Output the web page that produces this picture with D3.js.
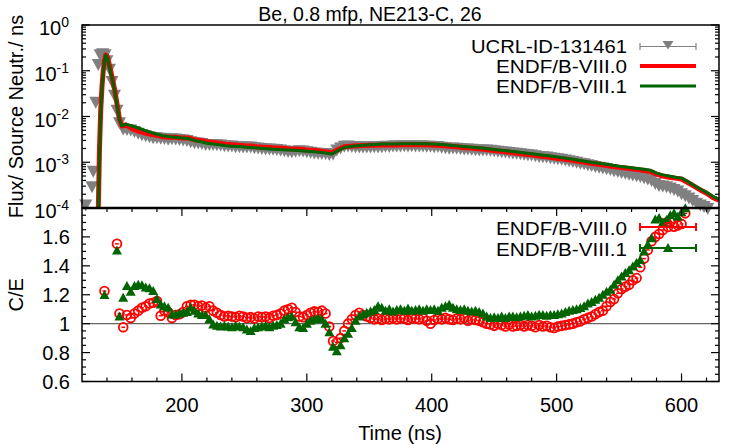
<!DOCTYPE html>
<html lang="en">
<head>
<meta charset="UTF-8">
<title>Be, 0.8 mfp, NE213-C, 26</title>
<style>
    body { margin: 0; background: #fff; }
    svg text { font-family: "Liberation Sans", Arial, Helvetica, sans-serif; fill: #000; }
</style>
</head>
<body>
<div id="chart"></div>
<script src="https://d3js.org/d3.v7.min.js"></script>
<script>
// ---- data ----
const timeExp = [123, 128, 129, 131, 133, 134.5, 136.5, 138.5, 140, 142, 144, 146, 148, 150,
    153, 156, 159, 162, 165, 168, 171, 174, 177, 180,
    183, 186, 189, 192, 195, 198, 201, 204, 207, 210,
    213, 216, 219, 222, 225, 228, 231, 234, 237, 240,
    243, 246, 249, 252, 255, 258, 261, 264, 267, 270,
    273, 276, 279, 282, 285, 288, 291, 294, 297, 300,
    303, 306, 309, 312, 315, 318, 321, 324, 327, 330,
    333, 336, 339, 342, 345, 348, 351, 354, 357, 360,
    363, 366, 369, 372, 375, 378, 381, 384, 387, 390,
    393, 396, 399, 402, 405, 408, 411, 414, 417, 420,
    423, 426, 429, 432, 435, 438, 441, 444, 447, 450,
    453, 456, 459, 462, 465, 468, 471, 474, 477, 480,
    483, 486, 489, 492, 495, 498, 501, 504, 507, 510,
    513, 516, 519, 522, 525, 528, 531, 534, 537, 540,
    543, 546, 549, 552, 555, 558, 561, 564, 567, 570,
    573, 576, 579, 582, 585, 588, 591, 594, 597, 600,
    603, 606, 609, 612, 615, 618, 621];
const fluxExp = [1.2e-4, 3e-4, 6.5e-4, 0.021, 0.14, 0.23, 0.24, 0.23, 0.17, 0.11, 0.06, 0.03, 0.014, 0.0075,
    0.0055, 0.0053, 0.0052, 0.0048, 0.0044, 0.0041, 0.0039, 0.0037, 0.0035, 0.0035,
    0.00344, 0.0034, 0.00325, 0.00334, 0.00329, 0.00322, 0.00316, 0.00306, 0.00288, 0.00275,
    0.00271, 0.00264, 0.00249, 0.00249, 0.00251, 0.00248, 0.00245, 0.00236, 0.00233, 0.00231,
    0.00225, 0.00224, 0.00222, 0.00222, 0.00221, 0.00213, 0.00209, 0.00205, 0.00201, 0.00201,
    0.00197, 0.00194, 0.00189, 0.00182, 0.00177, 0.00174, 0.00179, 0.00184, 0.00181, 0.00174,
    0.00169, 0.00164, 0.00161, 0.00159, 0.0016, 0.00152, 0.00156, 0.0019, 0.0021, 0.00228,
    0.00232, 0.00227, 0.00224, 0.00221, 0.00221, 0.00221, 0.00221, 0.00223, 0.00221, 0.00225,
    0.00229, 0.00227, 0.00232, 0.00231, 0.00231, 0.00234, 0.00231, 0.00234, 0.00233, 0.00232,
    0.00233, 0.00229, 0.00228, 0.00225, 0.00226, 0.00218, 0.00213, 0.00208, 0.00209, 0.00207,
    0.00205, 0.002, 0.00199, 0.00197, 0.00193, 0.00191, 0.0019, 0.00189, 0.00187, 0.00182,
    0.00179, 0.00174, 0.00172, 0.00167, 0.00164, 0.00161, 0.00157, 0.00153, 0.00149, 0.00147,
    0.00142, 0.00137, 0.00135, 0.00133, 0.00129, 0.00125, 0.00122, 0.00119, 0.00115, 0.0011,
    0.00106, 0.00102, 0.00098, 0.00095, 0.0009, 0.00087, 0.00083, 0.0008, 0.00077, 0.00074,
    0.00071, 0.00067, 0.00064, 0.00061, 0.00059, 0.00056, 0.00054, 0.00052, 0.0005, 0.00047,
    0.00044, 0.00041, 0.00035, 0.00032, 0.00031, 0.0003, 0.00028, 0.00026, 0.00024, 0.00021,
    0.00019, 0.00017, 0.00015, 0.00013, 0.00012, 0.00011, 0.0001];

const timeCalc = [124, 128, 132, 133, 134, 135, 136, 137, 138, 139, 140, 141, 142, 144, 146, 148, 150, 152,
    155, 160, 165, 170, 175, 180, 185, 190, 195, 200,
    205, 210, 215, 220, 225, 230, 235, 240, 245, 250,
    255, 260, 265, 270, 275, 280, 285, 290, 295, 300,
    305, 310, 315, 320, 325, 330, 335, 340, 345, 350,
    355, 360, 365, 370, 375, 380, 385, 390, 395, 400,
    405, 410, 415, 420, 425, 430, 435, 440, 445, 450,
    455, 460, 465, 470, 475, 480, 485, 490, 495, 500,
    505, 510, 515, 520, 525, 530, 535, 540, 545, 550,
    555, 560, 565, 570, 575, 580, 585, 590, 595, 600,
    605, 610, 615, 620, 625, 630];
const fluxB80 = [1e-6, 1e-6, 1e-6, 8e-5, 2e-3, 0.014, 0.045, 0.1, 0.17, 0.22, 0.21, 0.17, 0.13, 0.075, 0.04, 0.019, 0.0088, 0.0062,
    0.0066, 0.0054, 0.0048, 0.0044, 0.0041, 0.0039, 0.0036, 0.0035, 0.0035, 0.0034,
    0.0034, 0.0031, 0.0030, 0.0028, 0.0027, 0.0026, 0.00248, 0.00242, 0.00236, 0.0023,
    0.00226, 0.00219, 0.00214, 0.0021, 0.00206, 0.00202, 0.00198, 0.00196, 0.00192, 0.00186,
    0.00182, 0.00177, 0.0017, 0.0016, 0.0019, 0.00218, 0.00224, 0.0023, 0.00232, 0.00234,
    0.00236, 0.00238, 0.00238, 0.00239, 0.0024, 0.00242, 0.00242, 0.00242, 0.00241, 0.00238,
    0.00234, 0.00229, 0.00223, 0.00217, 0.00211, 0.00205, 0.002, 0.00194, 0.00187, 0.0018,
    0.00174, 0.00168, 0.00162, 0.00156, 0.0015, 0.00145, 0.00139, 0.00133, 0.00128, 0.00122,
    0.00118, 0.00113, 0.00108, 0.00102, 0.00097, 0.00093, 0.00089, 0.00085, 0.00081, 0.00078,
    0.00075, 0.00072, 0.00069, 0.00066, 0.00063, 0.00055, 0.0005, 0.00047, 0.00045, 0.00043,
    0.00036, 0.0003, 0.00025, 0.00021, 0.00017, 0.000148];
const fluxB81 = [1e-6, 1e-6, 1e-6, 6e-5, 1.5e-3, 0.012, 0.04, 0.09, 0.16, 0.22, 0.2, 0.16, 0.12, 0.07, 0.038, 0.018, 0.0085, 0.0062,
    0.0068, 0.0062, 0.0056, 0.0050, 0.0045, 0.0041, 0.0038, 0.0036, 0.0035, 0.0034,
    0.0033, 0.0030, 0.0028, 0.0026, 0.0025, 0.0024, 0.0023, 0.00225, 0.0022, 0.00215,
    0.0021, 0.00205, 0.0020, 0.00196, 0.00192, 0.00188, 0.00185, 0.00182, 0.00178, 0.00174,
    0.0017, 0.00166, 0.0016, 0.00152, 0.0018, 0.0021, 0.0022, 0.0023, 0.00235, 0.0024,
    0.00245, 0.0025, 0.0025, 0.00252, 0.00254, 0.00255, 0.00255, 0.00255, 0.00254, 0.0025,
    0.00246, 0.0024, 0.00234, 0.00228, 0.00222, 0.00216, 0.0021, 0.00204, 0.00197, 0.0019,
    0.00184, 0.00178, 0.00172, 0.00166, 0.0016, 0.00154, 0.00148, 0.00142, 0.00137, 0.00131,
    0.00126, 0.0012, 0.00114, 0.00108, 0.00103, 0.00098, 0.00094, 0.0009, 0.00086, 0.00082,
    0.00079, 0.00076, 0.00073, 0.0007, 0.00067, 0.00058, 0.00053, 0.0005, 0.00047, 0.00045,
    0.00038, 0.00031, 0.00026, 0.00022, 0.00018, 0.000155];

const timeCE = [138, 148,
    150, 153, 156, 159, 162, 165, 168, 171, 174, 177,
    180, 183, 186, 189, 192, 195, 198, 201, 204, 207,
    210, 213, 216, 219, 222, 225, 228, 231, 234, 237,
    240, 243, 246, 249, 252, 255, 258, 261, 264, 267,
    270, 273, 276, 279, 282, 285, 288, 291, 294, 297,
    300, 303, 306, 309, 312, 315, 318, 321, 324, 327,
    330, 333, 336, 339, 342, 345, 348, 351, 354, 357,
    360, 363, 366, 369, 372, 375, 378, 381, 384, 387,
    390, 393, 396, 399, 402, 405, 408, 411, 414, 417,
    420, 423, 426, 429, 432, 435, 438, 441, 444, 447,
    450, 453, 456, 459, 462, 465, 468, 471, 474, 477,
    480, 483, 486, 489, 492, 495, 498, 501, 504, 507,
    510, 513, 516, 519, 522, 525, 528, 531, 534, 537,
    540, 543, 546, 549, 552, 555, 558, 561, 564, 567,
    570, 573, 576, 579, 582, 585, 588, 591, 594, 597,
    600, 603];
const timeErrCE = 1.5; // half bin width, ns
const ceB80 = [1.226, 1.552,
    1.07, 0.975, 1.06, 1.04, 1.07, 1.09, 1.11, 1.12, 1.14, 1.145,
    1.157, 1.055, 1.09, 1.08, 1.04, 1.06, 1.065, 1.08, 1.12, 1.13,
    1.13, 1.12, 1.125, 1.11, 1.12, 1.09, 1.075, 1.06, 1.05, 1.055,
    1.05, 1.045, 1.055, 1.05, 1.04, 1.045, 1.035, 1.05, 1.045, 1.05,
    1.04, 1.055, 1.06, 1.07, 1.09, 1.1, 1.11, 1.08, 1.05, 1.045,
    1.06, 1.075, 1.085, 1.08, 1.09, 1.07, 0.98, 0.88, 0.87, 0.9,
    0.95, 1.0, 1.03, 1.06, 1.075, 1.06, 1.05, 1.04, 1.03, 1.035,
    1.025, 1.035, 1.03, 1.04, 1.03, 1.04, 1.035, 1.025, 1.04, 1.035,
    1.03, 1.04, 1.02, 1.0, 1.025, 1.035, 1.03, 1.04, 1.03, 1.025,
    1.035, 1.03, 1.04, 1.02, 1.03, 1.025, 1.02, 1.01, 1.0, 0.995,
    0.985, 1.0, 0.99, 0.98, 0.995, 0.98, 0.985, 0.99, 0.98, 0.99,
    0.985, 0.975, 0.99, 0.98, 0.985, 0.975, 0.97, 0.98, 0.985, 0.99,
    0.995, 1.0, 1.01, 1.016, 1.03, 1.04, 1.05, 1.065, 1.08, 1.09,
    1.12, 1.15, 1.17, 1.21, 1.24, 1.255, 1.27, 1.3, 1.315, 1.39,
    1.45, 1.51, 1.57, 1.6, 1.62, 1.648, 1.7, 1.706, 1.67, 1.68,
    1.69, 1.763];
const ceB81 = [1.198, 1.506,
    1.05, 1.18, 1.26, 1.22, 1.26, 1.27, 1.265, 1.25, 1.245, 1.226,
    1.17, 1.133, 1.12, 1.11, 1.064, 1.064, 1.07, 1.076, 1.08, 1.11,
    1.09, 1.07, 1.06, 1.06, 1.03, 0.995, 0.985, 0.98, 0.985, 0.98,
    0.975, 0.985, 0.98, 0.975, 0.96, 0.95, 0.97, 0.975, 0.98, 0.985,
    0.975, 0.985, 0.99, 1.0, 1.03, 1.045, 1.05, 1.01, 0.975, 0.97,
    1.0, 1.02, 1.03, 1.035, 1.03, 1.0, 0.94, 0.84, 0.81, 0.85,
    0.9, 0.93, 0.97, 1.02, 1.05, 1.065, 1.075, 1.085, 1.095, 1.12,
    1.11, 1.09, 1.1, 1.085, 1.095, 1.1, 1.09, 1.105, 1.09, 1.095,
    1.1, 1.09, 1.1, 1.095, 1.1, 1.09, 1.11, 1.12, 1.13, 1.11,
    1.1, 1.095, 1.1, 1.09, 1.085, 1.09, 1.08, 1.07, 1.05, 1.04,
    1.045, 1.04, 1.05, 1.04, 1.05, 1.05, 1.045, 1.05, 1.055, 1.06,
    1.05, 1.055, 1.062, 1.06, 1.055, 1.06, 1.06, 1.065, 1.07, 1.08,
    1.09, 1.095, 1.1, 1.108, 1.12, 1.14, 1.15, 1.166, 1.18, 1.2,
    1.22, 1.234, 1.27, 1.3, 1.326, 1.35, 1.37, 1.395, 1.42, 1.441,
    1.5, 1.545, 1.59, 1.72, 1.73, 1.7, 1.717, 1.75, 1.763, 1.74,
    1.77, 1.798];

const xMajor = [200, 300, 400, 500, 600];
const ceMajor = [0.6, 0.8, 1, 1.2, 1.4, 1.6];
const fluxDecades = [-4, -3, -2, -1, 0];

// ---- layout ----
const width = 730, height = 445;
const left = 82, right = 719, top1 = 25, mid = 208, bottom2 = 381.5;
const RED = "#ff0000", GREEN = "#006400", GRAY = "#808080";

const svg = d3.select("#chart").append("svg")
    .attr("width", width).attr("height", height);

const x = d3.scaleLinear().domain([120, 630]).range([left, right]);
const yFlux = d3.scaleLog().domain([1e-4, 1]).range([mid, top1]);
const yCE = d3.scaleLinear().domain([0.6, 1.8]).range([bottom2, mid]);

svg.append("clipPath").attr("id", "clipTop").append("rect")
    .attr("x", left).attr("y", top1).attr("width", right - left).attr("height", mid - top1);

// data markers
const triDown = (cx, cy) => `M${cx - 6.5},${cy - 5}L${cx + 6.5},${cy - 5}L${cx},${cy + 7}Z`;
const triUp = (cx, cy) => `M${cx - 5},${cy + 4}L${cx + 5},${cy + 4}L${cx},${cy - 5}Z`;
// legend marker
const triDownKey = (cx, cy) => `M${cx - 5.5},${cy - 5.5}L${cx + 5.5},${cy - 5.5}L${cx},${cy + 3}Z`;

// ---- top panel ----
const expPts = timeExp.map((t, i) => ({ t, v: fluxExp[i] })).filter(d => d.v >= 1e-4 && d.v <= 1);
svg.append("g").selectAll("path").data(expPts).join("path")
    .attr("d", d => triDown(x(d.t), yFlux(d.v)))
    .attr("fill", GRAY);

const fluxLine = vals => d3.line()
    .x((t, i) => x(t))
    .y((t, i) => yFlux(vals[i]))(timeCalc);

svg.append("path").attr("clip-path", "url(#clipTop)")
    .attr("d", fluxLine(fluxB80))
    .attr("fill", "none").attr("stroke", RED).attr("stroke-width", 5).attr("stroke-linejoin", "round");
svg.append("path").attr("clip-path", "url(#clipTop)")
    .attr("d", fluxLine(fluxB81))
    .attr("fill", "none").attr("stroke", GREEN).attr("stroke-width", 3).attr("stroke-linejoin", "round");

// ---- bottom panel ----
svg.append("line")
    .attr("x1", left).attr("x2", right)
    .attr("y1", yCE(1)).attr("y2", yCE(1))
    .attr("stroke", "#666").attr("stroke-width", 1.3);

const ce80 = timeCE.map((t, i) => ({ t, v: ceB80[i] })).filter(d => d.v <= 1.8);
const ce81 = timeCE.map((t, i) => ({ t, v: ceB81[i] })).filter(d => d.v <= 1.8);

const g80 = svg.append("g");
g80.selectAll("line").data(ce80).join("line")
    .attr("x1", d => x(d.t - timeErrCE)).attr("x2", d => x(d.t + timeErrCE))
    .attr("y1", d => yCE(d.v)).attr("y2", d => yCE(d.v))
    .attr("stroke", RED).attr("stroke-width", 1.5);
g80.selectAll("circle").data(ce80).join("circle")
    .attr("cx", d => x(d.t)).attr("cy", d => yCE(d.v)).attr("r", 4.4)
    .attr("fill", "none").attr("stroke", RED).attr("stroke-width", 1.8);

svg.append("g").selectAll("path").data(ce81).join("path")
    .attr("d", d => triUp(x(d.t), yCE(d.v)))
    .attr("fill", GREEN);

// ---- frames and ticks ----
const frame = svg.append("g").attr("fill", "none").attr("stroke", "#000");
frame.append("rect").attr("x", left).attr("y", top1).attr("width", right - left).attr("height", mid - top1).attr("stroke-width", 1.5);
frame.append("rect").attr("x", left).attr("y", mid).attr("width", right - left).attr("height", bottom2 - mid).attr("stroke-width", 1.5);
frame.append("line").attr("x1", left).attr("x2", right).attr("y1", mid).attr("y2", mid).attr("stroke-width", 2.5);

const ticks = svg.append("g").attr("stroke", "#000").attr("stroke-width", 1.2);
function hTick(yy, len) {
    ticks.append("line").attr("x1", left).attr("x2", left + len).attr("y1", yy).attr("y2", yy);
    ticks.append("line").attr("x1", right).attr("x2", right - len).attr("y1", yy).attr("y2", yy);
}
function vTick(xx, len) {
    ticks.append("line").attr("x1", xx).attr("x2", xx).attr("y1", bottom2).attr("y2", bottom2 - len);
    ticks.append("line").attr("x1", xx).attr("x2", xx).attr("y1", mid).attr("y2", mid + len);
}

// log ticks
fluxDecades.forEach(p => {
    hTick(yFlux(Math.pow(10, p)), 8);
    if (p < 0) d3.range(2, 10).forEach(m => hTick(yFlux(m * Math.pow(10, p)), 4));
});
// C/E ticks
d3.range(0.6, 1.801, 0.05).forEach(v => {
    const major = Math.abs(v * 5 - Math.round(v * 5)) < 1e-6;
    hTick(yCE(v), major ? 8 : 4);
});
// time ticks
d3.range(140, 630, 20).forEach(t => vTick(x(t), t % 100 === 0 ? 8 : 4));

// ---- tick labels ----
const labels = svg.append("g").attr("font-size", 20);
fluxDecades.forEach(p => {
    const t = labels.append("text")
        .attr("x", 69).attr("y", yFlux(Math.pow(10, p)) + 10)
        .attr("text-anchor", "end");
    t.append("tspan").text("10");
    t.append("tspan").attr("dy", -8).attr("font-size", 14).text(p === 0 ? "0" : "-" + (-p));
});
ceMajor.forEach(v => {
    labels.append("text")
        .attr("x", 70).attr("y", yCE(v) + 7)
        .attr("text-anchor", "end")
        .text(d3.format("~g")(v));
});
xMajor.forEach(t => {
    labels.append("text")
        .attr("x", x(t)).attr("y", 412)
        .attr("text-anchor", "middle")
        .text(t);
});

// axis titles
labels.append("text").attr("x", 400).attr("y", 440).attr("text-anchor", "middle").text("Time (ns)");
labels.append("text").attr("transform", `translate(23,${(top1 + mid) / 2}) rotate(-90)`)
    .attr("text-anchor", "middle").text("Flux/ Source Neutr./ ns");
labels.append("text").attr("transform", `translate(23,${(mid + bottom2) / 2}) rotate(-90)`)
    .attr("text-anchor", "middle").text("C/E");
svg.append("text").attr("x", 370).attr("y", 21).attr("text-anchor", "middle")
    .attr("font-size", 19.5).text("Be, 0.8 mfp, NE213-C, 26");

// ---- legends ----
const leg = svg.append("g");
const lx1 = 640, lx2 = 696, lxc = (lx1 + lx2) / 2;
function legText(label, y, size, len) {
    leg.append("text").attr("x", 627).attr("y", y).attr("text-anchor", "end")
        .attr("font-size", size)
        .attr("textLength", len).attr("lengthAdjust", "spacingAndGlyphs")
        .text(label);
}

// top legend
legText("UCRL-ID-131461", 53, 17.5, 156);
leg.append("line").attr("x1", lx1).attr("x2", lx2).attr("y1", 46.5).attr("y2", 46.5).attr("stroke", GRAY).attr("stroke-width", 1.2);
[lx1, lx2].forEach(xx => leg.append("line").attr("x1", xx).attr("x2", xx).attr("y1", 43).attr("y2", 50).attr("stroke", GRAY).attr("stroke-width", 1.2));
leg.append("path").attr("d", triDownKey(lxc, 46.5)).attr("fill", GRAY);

legText("ENDF/B-VIII.0", 73, 17.5, 131);
leg.append("line").attr("x1", lx1).attr("x2", lx2).attr("y1", 66).attr("y2", 66).attr("stroke", RED).attr("stroke-width", 4);

legText("ENDF/B-VIII.1", 93, 17.5, 131);
leg.append("line").attr("x1", lx1).attr("x2", lx2).attr("y1", 86).attr("y2", 86).attr("stroke", GREEN).attr("stroke-width", 3);

// bottom legend
legText("ENDF/B-VIII.0", 235, 18.5, 131);
leg.append("line").attr("x1", lx1).attr("x2", lx2).attr("y1", 227).attr("y2", 227).attr("stroke", RED).attr("stroke-width", 2);
[lx1, lx2].forEach(xx => leg.append("line").attr("x1", xx).attr("x2", xx).attr("y1", 223).attr("y2", 231).attr("stroke", RED).attr("stroke-width", 2));
leg.append("circle").attr("cx", lxc).attr("cy", 227).attr("r", 4.4).attr("fill", "none").attr("stroke", RED).attr("stroke-width", 1.8);

legText("ENDF/B-VIII.1", 256, 18.5, 131);
leg.append("line").attr("x1", lx1).attr("x2", lx2).attr("y1", 248).attr("y2", 248).attr("stroke", GREEN).attr("stroke-width", 2);
[lx1, lx2].forEach(xx => leg.append("line").attr("x1", xx).attr("x2", xx).attr("y1", 244).attr("y2", 252).attr("stroke", GREEN).attr("stroke-width", 2));
leg.append("path").attr("d", triUp(lxc, 248)).attr("fill", GREEN);
</script>
</body>
</html>
